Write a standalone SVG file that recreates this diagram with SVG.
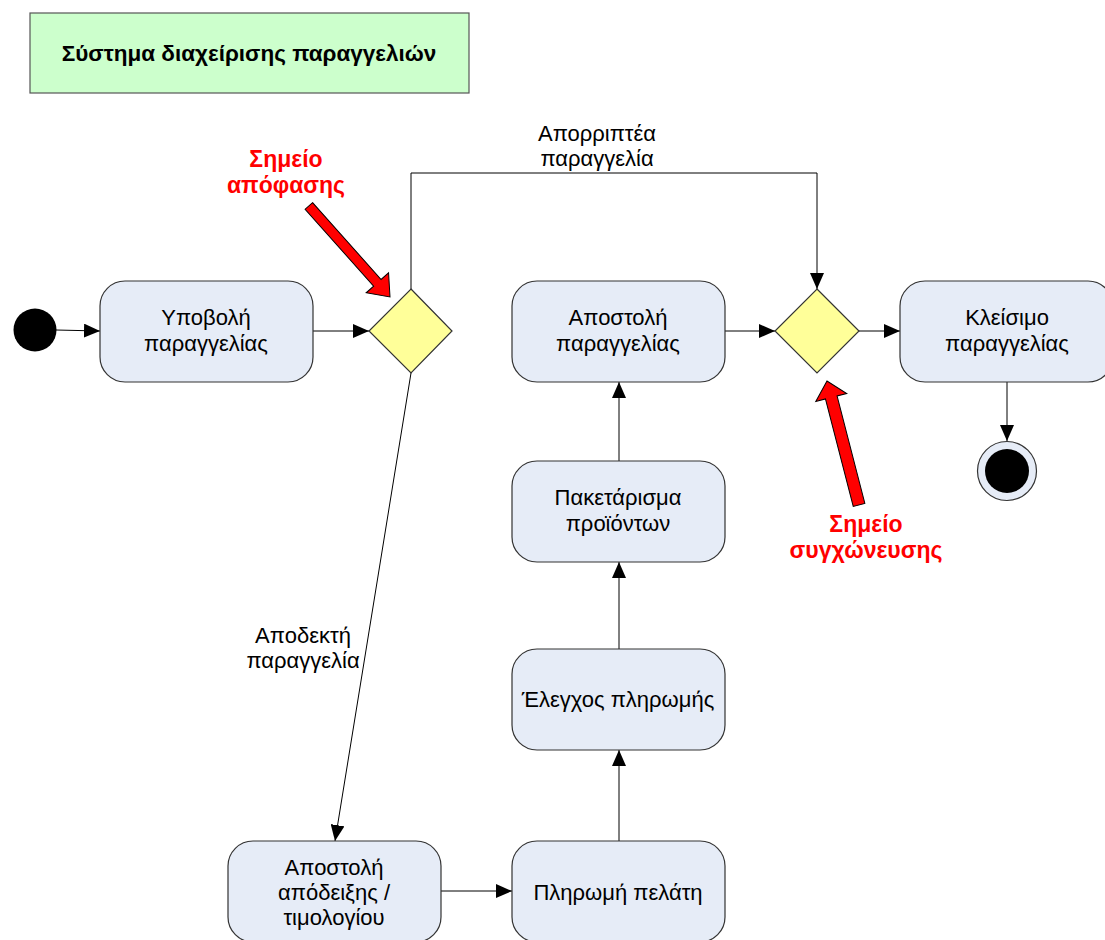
<svg xmlns="http://www.w3.org/2000/svg" width="1105" height="940" viewBox="0 0 1105 940">
<defs>
<style>
.box{fill:#e6ecf7;stroke:#333;stroke-width:1.2}
.dia{fill:#ffff99;stroke:#333;stroke-width:1.2}
.t{font-family:"Liberation Sans",Arial,sans-serif;font-size:22px;fill:#000;text-anchor:middle}
.r{font-family:"Liberation Sans",Arial,sans-serif;font-size:23px;font-weight:bold;fill:#ff0000;text-anchor:middle}
.c{fill:none;stroke:#000;stroke-width:1;marker-end:url(#ah)}
.ra{fill:#ff0000;stroke:#000;stroke-width:1}
</style>
<marker id="ah" markerWidth="16" markerHeight="14" refX="16" refY="7" orient="auto" markerUnits="userSpaceOnUse"><path d="M0,0 L16,7 L0,14 z" fill="#000"/></marker>
</defs>
<rect width="1105" height="940" fill="#fff"/>
<g id="title">
<rect x="30" y="13" width="439" height="80" fill="#ccffcc" stroke="#555" stroke-width="1.2"/>
<text x="249" y="61" font-family="'Liberation Sans',Arial,sans-serif" font-size="22.5" font-weight="bold" text-anchor="middle">Σύστημα διαχείρισης παραγγελιών</text>
</g>
<g id="connectors">
<path class="c" d="M56,330 L100,331"/>
<path class="c" d="M313,331 L369,331"/>
<path class="c" d="M411,289 L411,173 L817,173 L817,289"/>
<path class="c" d="M411,373 L335,841"/>
<path class="c" d="M441,891 L512,891"/>
<path class="c" d="M619,841 L619,750"/>
<path class="c" d="M619,649 L619,562"/>
<path class="c" d="M619,461 L619,382"/>
<path class="c" d="M725,331 L775,331"/>
<path class="c" d="M859,331 L900,331"/>
<path class="c" d="M1007,382 L1007,441"/>
<text class="t" x="597" y="141">Απορριπτέα</text>
<text class="t" x="597" y="166">παραγγελία</text>
<text class="t" x="303" y="643">Αποδεκτή</text>
<text class="t" x="303" y="668">παραγγελία</text>
</g>
<g id="start"><circle cx="35" cy="330" r="21.5" fill="#000"/></g>
<g id="submit">
<rect class="box" x="100" y="281" width="213" height="101" rx="25"/>
<text class="t" x="206" y="325">Υποβολή</text>
<text class="t" x="206" y="351">παραγγελίας</text>
</g>
<g id="decision"><polygon class="dia" points="411,289 452,331 411,373 369,331"/></g>
<g id="merge"><polygon class="dia" points="817,289 859,331 817,373 775,331"/></g>
<g id="ship">
<rect class="box" x="512" y="281" width="213" height="101" rx="25"/>
<text class="t" x="618" y="325">Αποστολή</text>
<text class="t" x="618" y="351">παραγγελίας</text>
</g>
<g id="close">
<rect class="box" x="900" y="281" width="213" height="101" rx="25"/>
<text class="t" x="1007" y="325">Κλείσιμο</text>
<text class="t" x="1007" y="351">παραγγελίας</text>
</g>
<g id="end">
<circle cx="1007" cy="471" r="29.5" fill="#e6ecf7" stroke="#333" stroke-width="1.2"/>
<circle cx="1007" cy="471" r="22" fill="#000"/>
</g>
<g id="pack">
<rect class="box" x="512" y="461" width="213" height="101" rx="25"/>
<text class="t" x="618" y="505">Πακετάρισμα</text>
<text class="t" x="618" y="531">προϊόντων</text>
</g>
<g id="check">
<rect class="box" x="512" y="649" width="213" height="101" rx="25"/>
<text class="t" x="618" y="707">Έλεγχος πληρωμής</text>
</g>
<g id="pay">
<rect class="box" x="512" y="841" width="213" height="101" rx="25"/>
<text class="t" x="618" y="900">Πληρωμή πελάτη</text>
</g>
<g id="receipt">
<rect class="box" x="228" y="841" width="213" height="101" rx="25"/>
<text class="t" x="334" y="875">Αποστολή</text>
<text class="t" x="334" y="900">απόδειξης /</text>
<text class="t" x="334" y="925">τιμολογίου</text>
</g>
<g id="note-decision">
<text class="r" x="286" y="167">Σημείο</text>
<text class="r" x="286" y="193">απόφασης</text>
<polygon class="ra" transform="translate(390,297) rotate(48.3)" points="-122,-5 -19,-5 -19,-15 0,0 -19,15 -19,5 -122,5"/>
</g>
<g id="note-merge">
<text class="r" x="866" y="532">Σημείο</text>
<text class="r" x="866" y="558">συγχώνευσης</text>
<polygon class="ra" transform="translate(827,381) rotate(-104.5)" points="-128,-6 -17,-6 -17,-16 0,0 -17,16 -17,6 -128,6"/>
</g>
</svg>
